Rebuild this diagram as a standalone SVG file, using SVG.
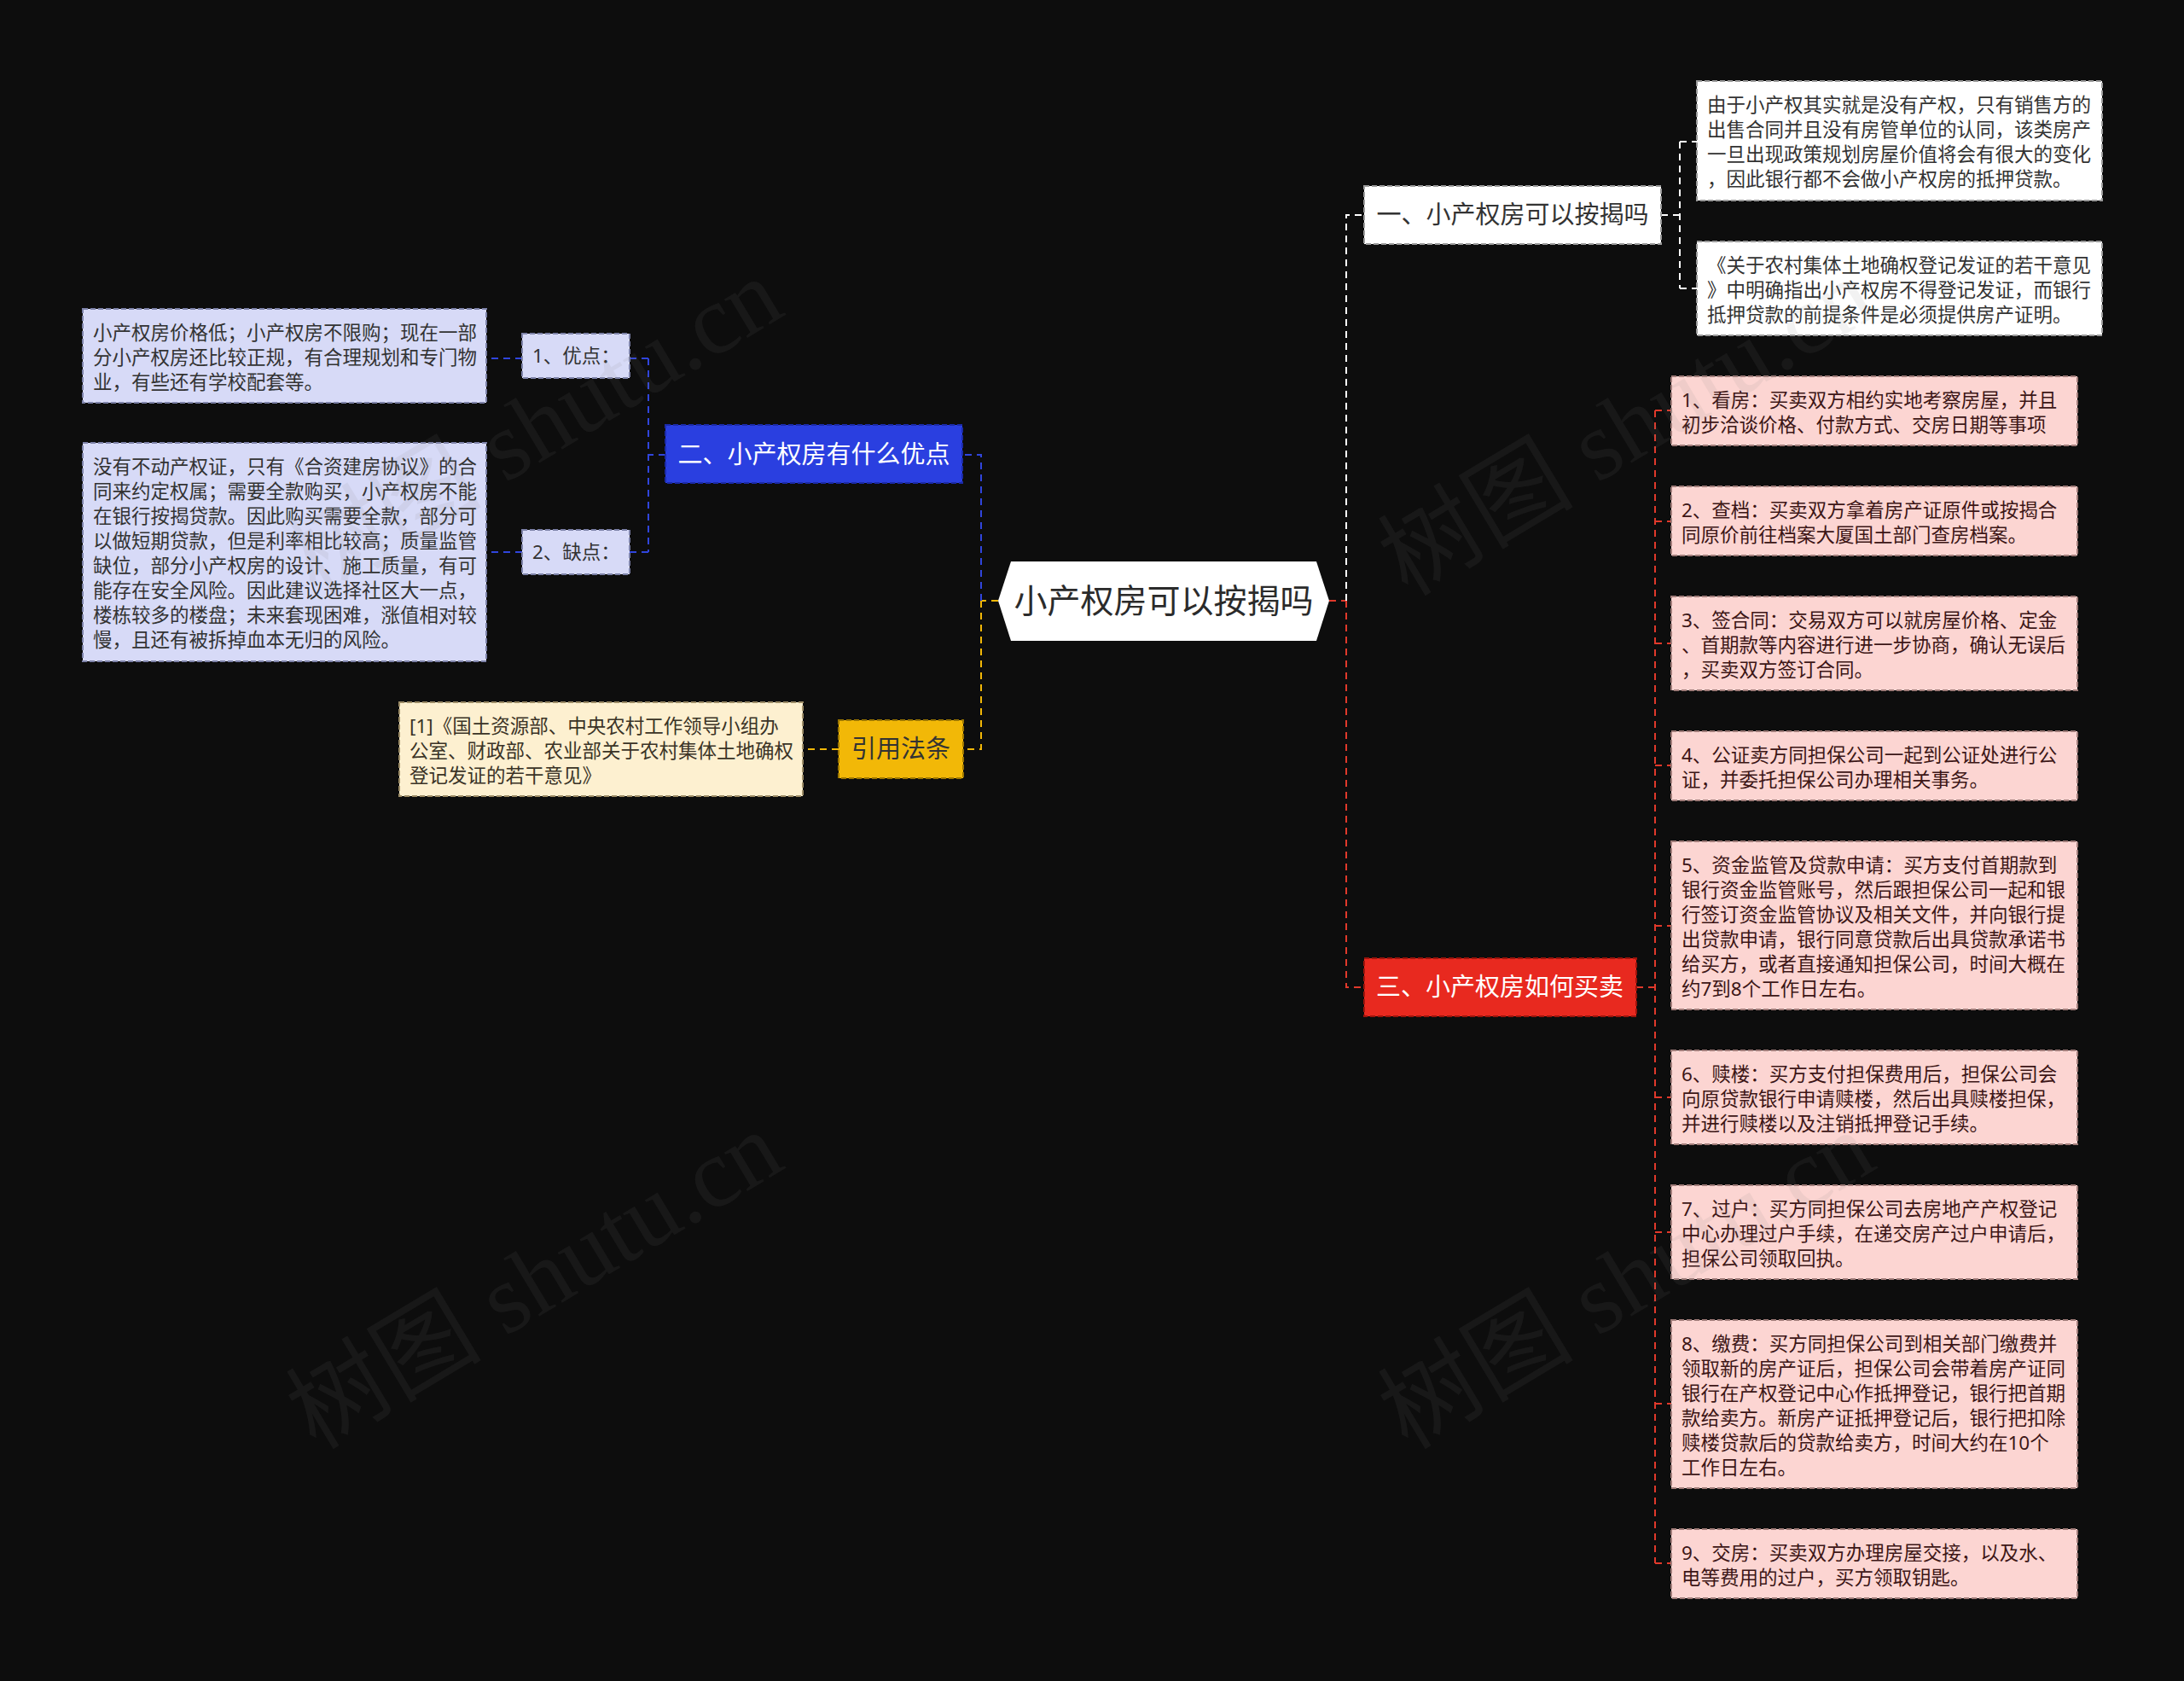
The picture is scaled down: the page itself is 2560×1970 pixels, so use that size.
<svg xmlns="http://www.w3.org/2000/svg" width="2560" height="1970" viewBox="0 0 2560 1970">
<style>
text{font-family:"Noto Sans","Noto Sans CJK SC",sans-serif;}
.leaf{font-size:22.5px;}
.main{font-size:29px;text-anchor:middle;}
.bd{stroke-width:2;stroke-dasharray:6 3;}
.c{fill:none;stroke-width:2;stroke-dasharray:8 6;}
.cw{stroke:#ffffff;}
.cb{stroke:#3045dc;}
.cy{stroke:#f2b807;}
.cr{stroke:#e0392b;}
.wm{font-family:"Liberation Serif","Noto Sans CJK SC",serif;font-size:115px;fill:#808080;fill-opacity:0.1;}
</style>
<rect x="0" y="0" width="2560" height="1970" fill="#0d0d0d"/>

<g id="connectors">
  <path class="c cy" d="M1170,704 H1150"/>
  <path class="c cb" d="M1150,704 V533 H1128"/>
  <path class="c cy" d="M1150,704 V878 H1129"/>
  <path class="c cb" d="M780,533 H760"/>
  <path class="c cb" d="M760,420 V647"/>
  <path class="c cb" d="M760,420 H738"/>
  <path class="c cb" d="M760,647 H738"/>
  <path class="c cb" d="M612,420 H570"/>
  <path class="c cb" d="M612,647 H570"/>
  <path class="c cy" d="M983,878 H941"/>
  <path class="c cr" d="M1558,704 H1578"/>
  <path class="c cw" d="M1578,704 V252 H1599"/>
  <path class="c cr" d="M1578,704 V1157 H1599"/>
  <path class="c cw" d="M1947,252 H1969"/>
  <path class="c cw" d="M1969,166 V338"/>
  <path class="c cw" d="M1969,166 H1989"/>
  <path class="c cw" d="M1969,338 H1989"/>
  <path class="c cr" d="M1918,1157 H1940"/>
  <path class="c cr" d="M1940,481 V1832"/>
  <path class="c cr" d="M1940,481 H1959"/>
  <path class="c cr" d="M1940,611 H1959"/>
  <path class="c cr" d="M1940,754 H1959"/>
  <path class="c cr" d="M1940,897 H1959"/>
  <path class="c cr" d="M1940,1085 H1959"/>
  <path class="c cr" d="M1940,1286 H1959"/>
  <path class="c cr" d="M1940,1444 H1959"/>
  <path class="c cr" d="M1940,1645 H1959"/>
  <path class="c cr" d="M1940,1832 H1959"/>
</g>

<g id="root">
  <polygon points="1170,704 1185,658 1543,658 1558,704 1543,751 1185,751" fill="#ffffff"/>
  <text x="1364" y="718" font-size="39" text-anchor="middle" fill="#2b2b2b">小产权房可以按揭吗</text>
</g>

<g id="b1">
  <rect class="bd" x="1599" y="218" width="348" height="68" fill="#ffffff" stroke="#9a9a9a"/>
  <text class="main" x="1773" y="262" fill="#333333">一、小产权房可以按揭吗</text>
</g>
<g id="b1-l1">
  <rect class="bd" x="1989" y="95" width="475" height="140" fill="#ffffff" stroke="#9a9a9a"/>
  <text class="leaf" fill="#333333">
    <tspan x="2001" y="131">由于小产权其实就是没有产权，只有销售方的</tspan>
    <tspan x="2001" y="160">出售合同并且没有房管单位的认同，该类房产</tspan>
    <tspan x="2001" y="189">一旦出现政策规划房屋价值将会有很大的变化</tspan>
    <tspan x="2001" y="218">，因此银行都不会做小产权房的抵押贷款。</tspan>
  </text>
</g>
<g id="b1-l2">
  <rect class="bd" x="1989" y="283" width="475" height="110" fill="#ffffff" stroke="#9a9a9a"/>
  <text class="leaf" fill="#333333">
    <tspan x="2001" y="319">《关于农村集体土地确权登记发证的若干意见</tspan>
    <tspan x="2001" y="348">》中明确指出小产权房不得登记发证，而银行</tspan>
    <tspan x="2001" y="377">抵押贷款的前提条件是必须提供房产证明。</tspan>
  </text>
</g>

<g id="b2">
  <rect class="bd" x="780" y="498" width="348" height="68" fill="#2a3fe0" stroke="#1b2aa8"/>
  <text class="main" x="954" y="543" fill="#ffffff">二、小产权房有什么优点</text>
</g>
<g id="b2-s1">
  <rect class="bd" x="612" y="391" width="126" height="52" fill="#d7daf7" stroke="#7d82a8"/>
  <text class="leaf" x="624" y="425" fill="#333333">1、优点：</text>
</g>
<g id="b2-s2">
  <rect class="bd" x="612" y="621" width="126" height="52" fill="#d7daf7" stroke="#7d82a8"/>
  <text class="leaf" x="624" y="655" fill="#333333">2、缺点：</text>
</g>
<g id="b2-l1">
  <rect class="bd" x="97" y="362" width="473" height="110" fill="#d7daf7" stroke="#7d82a8"/>
  <text class="leaf" fill="#333333">
    <tspan x="109" y="398">小产权房价格低；小产权房不限购；现在一部</tspan>
    <tspan x="109" y="427">分小产权房还比较正规，有合理规划和专门物</tspan>
    <tspan x="109" y="456">业，有些还有学校配套等。</tspan>
  </text>
</g>
<g id="b2-l2">
  <rect class="bd" x="97" y="519" width="473" height="256" fill="#d7daf7" stroke="#7d82a8"/>
  <text class="leaf" fill="#333333">
    <tspan x="109" y="555">没有不动产权证，只有《合资建房协议》的合</tspan>
    <tspan x="109" y="584">同来约定权属；需要全款购买，小产权房不能</tspan>
    <tspan x="109" y="613">在银行按揭贷款。因此购买需要全款，部分可</tspan>
    <tspan x="109" y="642">以做短期贷款，但是利率相比较高；质量监管</tspan>
    <tspan x="109" y="671">缺位，部分小产权房的设计、施工质量，有可</tspan>
    <tspan x="109" y="700">能存在安全风险。因此建议选择社区大一点，</tspan>
    <tspan x="109" y="729">楼栋较多的楼盘；未来套现困难，涨值相对较</tspan>
    <tspan x="109" y="758">慢，且还有被拆掉血本无归的风险。</tspan>
  </text>
</g>

<g id="b4">
  <rect class="bd" x="983" y="844" width="146" height="68" fill="#f2b807" stroke="#9c7600"/>
  <text class="main" x="1056" y="888" fill="#333333">引用法条</text>
</g>
<g id="b4-l1">
  <rect class="bd" x="468" y="823" width="473" height="110" fill="#fdf0d0" stroke="#9c8c66"/>
  <text class="leaf" fill="#3a3326">
    <tspan x="480" y="859">[1]《国土资源部、中央农村工作领导小组办</tspan>
    <tspan x="480" y="888">公室、财政部、农业部关于农村集体土地确权</tspan>
    <tspan x="480" y="917">登记发证的若干意见》</tspan>
  </text>
</g>

<g id="b3">
  <rect class="bd" x="1599" y="1123" width="319" height="68" fill="#e8291f" stroke="#9c140c"/>
  <text class="main" x="1758" y="1167" fill="#ffffff">三、小产权房如何买卖</text>
</g>
<g id="b3-l1">
  <rect class="bd" x="1959" y="441" width="476" height="81" fill="#fcd5d2" stroke="#a07c79"/>
  <text class="leaf" fill="#3c1616">
    <tspan x="1971" y="477">1、看房：买卖双方相约实地考察房屋，并且</tspan>
    <tspan x="1971" y="506">初步洽谈价格、付款方式、交房日期等事项</tspan>
  </text>
</g>
<g id="b3-l2">
  <rect class="bd" x="1959" y="570" width="476" height="81" fill="#fcd5d2" stroke="#a07c79"/>
  <text class="leaf" fill="#3c1616">
    <tspan x="1971" y="606">2、查档：买卖双方拿着房产证原件或按揭合</tspan>
    <tspan x="1971" y="635">同原价前往档案大厦国土部门查房档案。</tspan>
  </text>
</g>
<g id="b3-l3">
  <rect class="bd" x="1959" y="699" width="476" height="110" fill="#fcd5d2" stroke="#a07c79"/>
  <text class="leaf" fill="#3c1616">
    <tspan x="1971" y="735">3、签合同：交易双方可以就房屋价格、定金</tspan>
    <tspan x="1971" y="764">、首期款等内容进行进一步协商，确认无误后</tspan>
    <tspan x="1971" y="793">，买卖双方签订合同。</tspan>
  </text>
</g>
<g id="b3-l4">
  <rect class="bd" x="1959" y="857" width="476" height="81" fill="#fcd5d2" stroke="#a07c79"/>
  <text class="leaf" fill="#3c1616">
    <tspan x="1971" y="893">4、公证卖方同担保公司一起到公证处进行公</tspan>
    <tspan x="1971" y="922">证，并委托担保公司办理相关事务。</tspan>
  </text>
</g>
<g id="b3-l5">
  <rect class="bd" x="1959" y="986" width="476" height="197" fill="#fcd5d2" stroke="#a07c79"/>
  <text class="leaf" fill="#3c1616">
    <tspan x="1971" y="1022">5、资金监管及贷款申请：买方支付首期款到</tspan>
    <tspan x="1971" y="1051">银行资金监管账号，然后跟担保公司一起和银</tspan>
    <tspan x="1971" y="1080">行签订资金监管协议及相关文件，并向银行提</tspan>
    <tspan x="1971" y="1109">出贷款申请，银行同意贷款后出具贷款承诺书</tspan>
    <tspan x="1971" y="1138">给买方，或者直接通知担保公司，时间大概在</tspan>
    <tspan x="1971" y="1167">约7到8个工作日左右。</tspan>
  </text>
</g>
<g id="b3-l6">
  <rect class="bd" x="1959" y="1231" width="476" height="110" fill="#fcd5d2" stroke="#a07c79"/>
  <text class="leaf" fill="#3c1616">
    <tspan x="1971" y="1267">6、赎楼：买方支付担保费用后，担保公司会</tspan>
    <tspan x="1971" y="1296">向原贷款银行申请赎楼，然后出具赎楼担保，</tspan>
    <tspan x="1971" y="1325">并进行赎楼以及注销抵押登记手续。</tspan>
  </text>
</g>
<g id="b3-l7">
  <rect class="bd" x="1959" y="1389" width="476" height="110" fill="#fcd5d2" stroke="#a07c79"/>
  <text class="leaf" fill="#3c1616">
    <tspan x="1971" y="1425">7、过户：买方同担保公司去房地产产权登记</tspan>
    <tspan x="1971" y="1454">中心办理过户手续，在递交房产过户申请后，</tspan>
    <tspan x="1971" y="1483">担保公司领取回执。</tspan>
  </text>
</g>
<g id="b3-l8">
  <rect class="bd" x="1959" y="1547" width="476" height="197" fill="#fcd5d2" stroke="#a07c79"/>
  <text class="leaf" fill="#3c1616">
    <tspan x="1971" y="1583">8、缴费：买方同担保公司到相关部门缴费并</tspan>
    <tspan x="1971" y="1612">领取新的房产证后，担保公司会带着房产证同</tspan>
    <tspan x="1971" y="1641">银行在产权登记中心作抵押登记，银行把首期</tspan>
    <tspan x="1971" y="1670">款给卖方。新房产证抵押登记后，银行把扣除</tspan>
    <tspan x="1971" y="1699">赎楼贷款后的贷款给卖方，时间大约在10个</tspan>
    <tspan x="1971" y="1728">工作日左右。</tspan>
  </text>
</g>
<g id="b3-l9">
  <rect class="bd" x="1959" y="1792" width="476" height="81" fill="#fcd5d2" stroke="#a07c79"/>
  <text class="leaf" fill="#3c1616">
    <tspan x="1971" y="1828">9、交房：买卖双方办理房屋交接，以及水、</tspan>
    <tspan x="1971" y="1857">电等费用的过户，买方领取钥匙。</tspan>
  </text>
</g>

<g id="watermarks">
  <text class="wm" x="370" y="1700" transform="rotate(-31 370 1700)" dx="0">树图 shutu.cn</text>
  <text class="wm" x="370" y="700" transform="rotate(-31 370 700)">树图 shutu.cn</text>
  <text class="wm" x="1650" y="700" transform="rotate(-31 1650 700)">树图 shutu.cn</text>
  <text class="wm" x="1650" y="1700" transform="rotate(-31 1650 1700)">树图 shutu.cn</text>
</g>
</svg>
